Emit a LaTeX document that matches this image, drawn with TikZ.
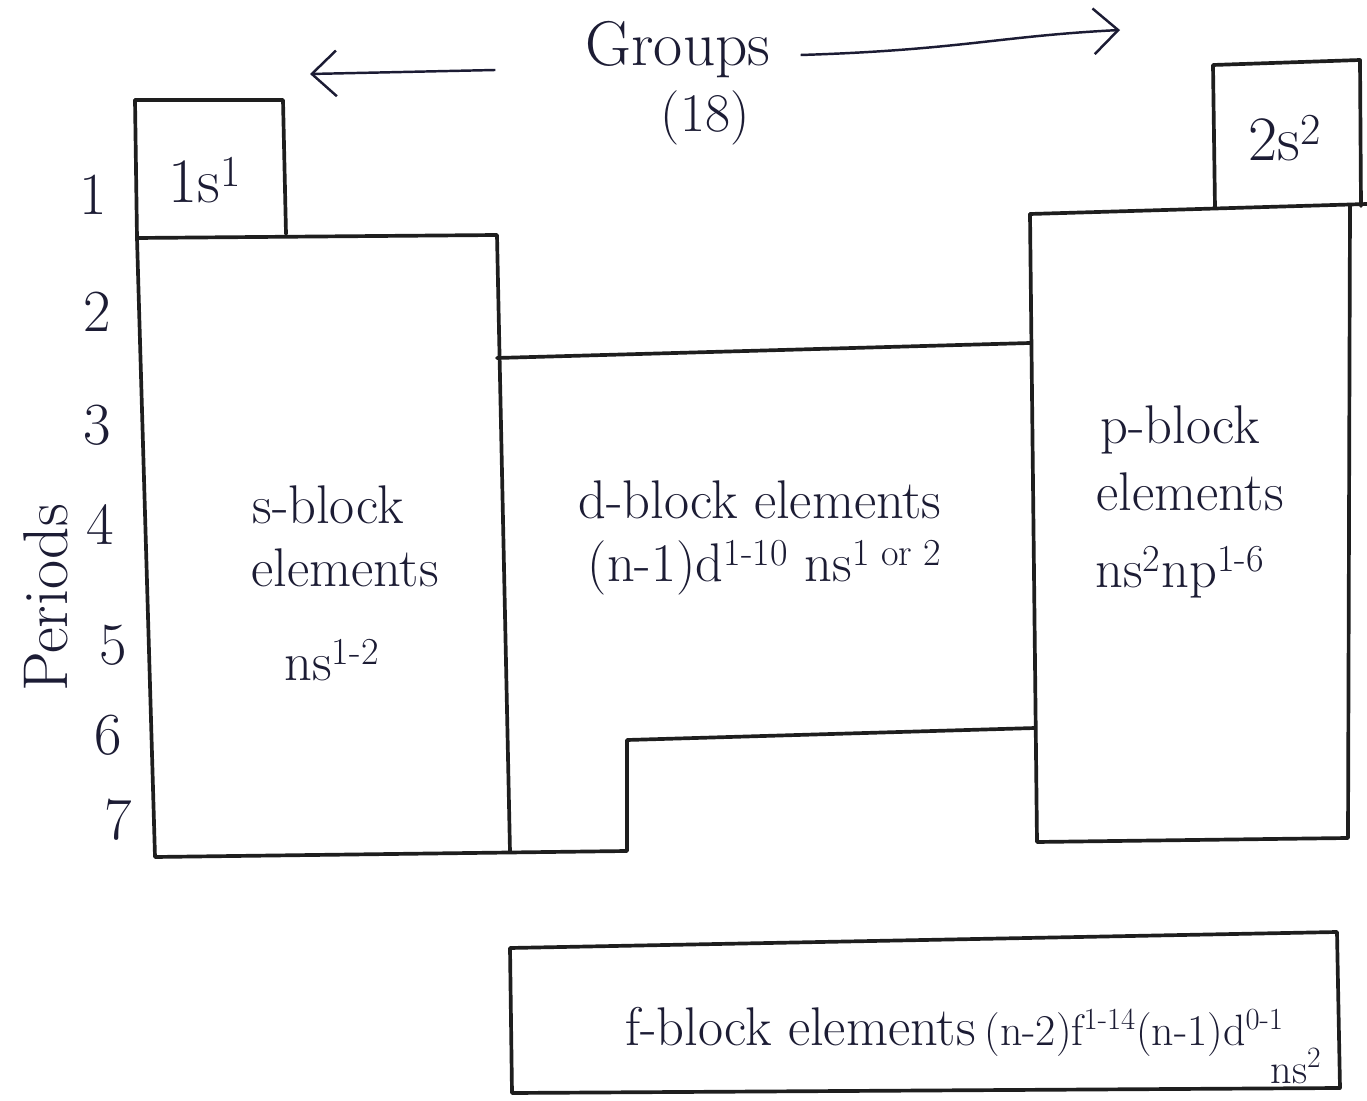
\documentclass[tikz,border=0pt]{standalone}
\usetikzlibrary{arrows.meta}
\definecolor{ink}{HTML}{1C1C34}
\definecolor{pen}{HTML}{1E1E1E}
\tikzset{
  edge/.style={draw=pen, line width=2.1pt, line join=round, line cap=round},
  txt/.style={text=ink, inner sep=0pt, font=\fontsize{31}{36}\selectfont},
  bigtxt/.style={text=ink, inner sep=0pt, font=\fontsize{36}{42}\selectfont},
  numtxt/.style={text=ink, inner sep=0pt, font=\fontsize{34}{40}\selectfont},
  arr/.style={draw=ink, line width=1.4pt, -{Straight Barb[length=14pt,width=26pt,line width=1.4pt]}}
}
\begin{document}
\begin{tikzpicture}[x=0.02cm,y=-0.02cm]
\useasboundingbox (0,0) rectangle (1367,1101);
\fill[white] (0,0) rectangle (1367,1101);

% ---- block outlines ----
% 1s box
\draw[edge] (135,100) -- (283,100) -- (286,234);
% s-block + bottom steps of d-block
\draw[edge] (135,100) -- (137,238) -- (155,857) -- (627,851) -- (627,740) -- (1035,728);
\draw[edge] (137,238) -- (497,235) -- (510,852);
% d-block top
\draw[edge] (497,358) -- (1030,343);
% p-block
\draw[edge] (1030,214) -- (1037,842) -- (1348,838) -- (1350,205);
\draw[edge] (1030,214) -- (1367,204);
% 2s box
\draw[edge] (1215,208) -- (1213,65) -- (1360,60) -- (1361,206);
% f-block
\draw[edge] (510,948) -- (1337,932) -- (1340,1088) -- (512,1093) -- cycle;

% ---- header ----
\node[bigtxt] (groups) at (678,50) {Groups};
\node[txt] (eighteen) at (705,118) {(18)};
\coordinate (gleft) at (310,74);
\coordinate (gright) at (1120,30);
\draw[arr] ([xshift=-1.8cm,yshift=-0.4cm]groups.west) -- (gleft);
\draw[arr] ([xshift=0.6cm,yshift=-0.1cm]groups.east) .. controls (960,50) and (1000,36) .. (gright);

% ---- periods ----
\node[bigtxt, rotate=90] (periods) at (46,598) {Periods};
\node[numtxt] (p1) at (93,195) {1};
\node[numtxt] (p2) at (97,312) {2};
\node[numtxt] (p3) at (97,425) {3};
\node[numtxt] (p4) at (100,525) {4};
\node[numtxt] (p5) at (113,645) {5};
\node[numtxt] (p6) at (108,735) {6};
\node[numtxt] (p7) at (118,820) {7};

% ---- labels ----
\node[bigtxt] (ones) at (205,180) {1s\textsuperscript{1}};
\node[bigtxt] (twos) at (1285,138) {2s\textsuperscript{2}};

\node[txt] (sblk) at (328,505) {s-block};
\node[txt] (selem) at (345,568) {elements};
\node[txt] (sconf) at (332,660) {ns\textsuperscript{1-2}};

\node[txt] (dblk) at (760,500) {d-block elements};
\node[txt] (dconf) at (765,568) {(n-1)d\textsuperscript{1-10} ns\textsuperscript{1 or 2}};

\node[txt] (pblk) at (1180,430) {p-block};
\node[txt] (pelem) at (1190,492) {elements};
\node[txt] (pconf) at (1180,572) {ns\textsuperscript{2}np\textsuperscript{1-6}};

\node[txt, anchor=base west] (fblk) at (625,1045) {f-block elements\,{\fontsize{25}{30}\selectfont(n-2)f\textsuperscript{1-14}(n-1)d\textsuperscript{0-1}}};
\node[txt, font=\fontsize{24}{28}\selectfont] (fns) at (1296,1066) {ns\textsuperscript{2}};
\end{tikzpicture}
\end{document}
